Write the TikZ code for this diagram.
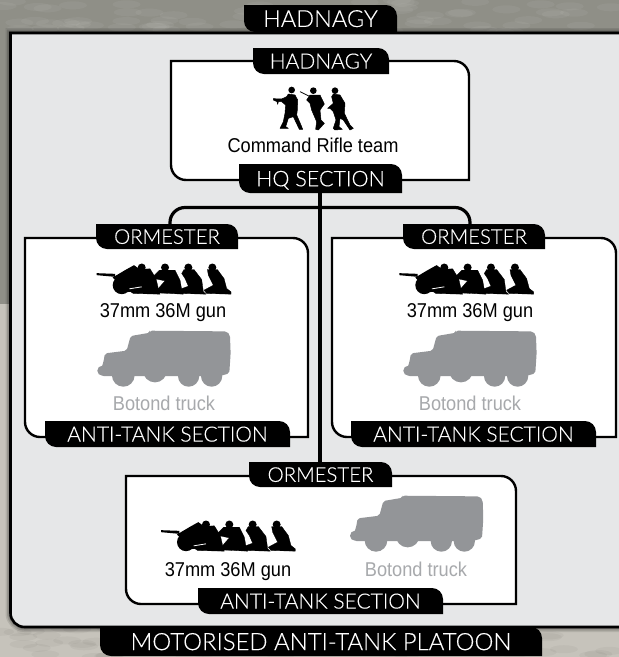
\documentclass[tikz,border=0pt]{standalone}
\usepackage{fontspec}
\setmainfont{Liberation Sans}
\newfontfamily\tabfont[FakeBold=0.25]{Lato Light}
\newfontfamily\capfont[FakeStretch=0.91]{Liberation Sans}
\definecolor{panelc}{HTML}{E6E7E8}
\definecolor{truckc}{HTML}{939598}
\definecolor{trucktext}{HTML}{A7A9AC}
\definecolor{bgtop}{HTML}{8F8F87}
\definecolor{bgbot}{HTML}{C6C3BB}
\newcommand{\tbpath}[5]{(#1,#2) -- ({#3-#5},#2) .. controls ({#3-.45*#5},#2) and (#3,{#2+.45*#5}) .. (#3,{#2+#5}) -- (#3,#4) -- ({#1+#5},#4) .. controls ({#1+.45*#5},#4) and (#1,{#4-.45*#5}) .. (#1,{#4-#5}) -- cycle}
% name, x1, y1, x2, y2, font size, text
\newcommand{\tabnode}[7]{%
  \fill \tbpath{#2}{#3}{#4}{#5}{11};
  \pgfmathsetmacro\tw{#4-#2}\pgfmathsetmacro\th{#5-#3}%
  \node[tablabel, minimum width=\tw pt, minimum height=\th pt, text height=.72*#6pt, font={\tabfont\fontsize{#6}{#6}\selectfont}] (#1) at ({(#2+#4)/2},{(#3+#5)/2}) {#7};}
\newcommand{\gunteam}[3]{%
  \begin{scope}[shift={(#1,#2)}, x=.3333pt, y=-.3333pt, shift={(-290,-190)}, every path/.append style={line width=.3pt, line join=round}]
    \fill (290,189) -- (345,191) -- (345,200) -- (290,195) -- cycle;
    \fill (365,225) circle [radius=27];
    \fill (338,202) -- (375,180) -- (402,165) -- (420,178) -- (440,205) -- (430,240) -- (380,246) -- cycle;
    \fill (425,172) circle [radius=12];
    \filldraw (405,178) -- (450,176) -- (468,205) -- (476,240) -- (480,252) -- (400,250) -- (385,240) -- (420,225) -- (410,205) -- cycle;
    \fill (495,172) circle [radius=12];
    \filldraw (478,180) -- (462,196) -- (462,205) -- (495,212) -- (475,235) -- (468,248) -- (550,252) -- (545,238) -- (540,210) -- (525,180) -- cycle;
    \fill (565,172) circle [radius=12];
    \filldraw (552,178) -- (582,178) -- (605,208) -- (610,245) -- (618,252) -- (545,250) -- (538,238) -- (565,228) -- (555,205) -- (545,190) -- cycle;
    \fill (637,172) circle [radius=12];
    \filldraw (622,178) -- (652,178) -- (672,205) -- (680,235) -- (693,245) -- (693,252) -- (620,250) -- (612,240) -- (640,225) -- (625,195) -- cycle;
    \draw[white, line width=.8pt] (388,236) -- (425,230);
  \end{scope}}
\newcommand{\truck}[3]{%
  \begin{scope}[shift={(#1,#2)}, x=.3333pt, y=-.3333pt, shift={(-292,-362)}]
    \fill[truckc, rounded corners=2pt] (300,485) -- (310,458) -- (315,430) -- (380,422) -- (392,378) -- (450,368) -- (450,362) -- (680,364) -- (690,375) -- (692,430) -- (688,490) -- (660,498) -- (305,498) -- cycle;
    \fill[truckc] (307,482) circle [radius=15];
    \fill[truckc] (370,496) circle [radius=34];
    \fill[truckc] (465,481) circle [radius=36];
    \fill[truckc] (566,498) circle [radius=32];
    \fill[truckc] (635,498) circle [radius=32];
  \end{scope}}
\begin{document}
\begin{tikzpicture}[x=1pt,y=-1pt,
  tablabel/.style={inner sep=0pt, text depth=0pt, text=white, align=center},
  sectbox/.style={fill=white, draw=black, line width=2.4pt},
  capt/.style={inner sep=0pt, anchor=base, text=black, font={\capfont\fontsize{20}{20}\selectfont}},
  captgrey/.style={capt, text=trucktext},
  conn/.style={draw=black, line width=3.6pt}]
\useasboundingbox (0,0) rectangle (619,657);
\clip (0,0) rectangle (619,657);
% background
\fill[bgbot] (0,0) rectangle (619,657);
\fill[bgtop] (0,0) rectangle (619,304);
\pgfmathsetseed{7}
\foreach \i in {1,...,70}{
  \pgfmathsetmacro\px{rnd*619}\pgfmathsetmacro\py{rnd*32}
  \fill[white, opacity=.05] (\px,\py) ellipse [x radius=14, y radius=4];
  \pgfmathsetmacro\qx{rnd*619}\pgfmathsetmacro\qy{628+rnd*29}
  \fill[black, opacity=.035] (\qx,\qy) ellipse [x radius=14, y radius=4];
}
% panel shadow
\foreach \w/\o in {10/.10,7/.14,4/.18}{
  \draw[black, opacity=\o, line width=\w pt] \tbpath{10.5}{33}{640}{627}{14};
}
% panel
\path[fill=panelc, draw=black, line width=2.6pt] \tbpath{10.5}{33}{640}{627}{14};
% section boxes
\path[sectbox] \tbpath{171}{61}{469}{180}{15};
\path[sectbox] \tbpath{25}{238}{308}{437}{15};
\path[sectbox] \tbpath{332}{238}{616}{437}{15};
\path[sectbox] \tbpath{126}{476}{516}{604}{15};
% tabs
\tabnode{topt}{244}{5}{397}{32}{23.5}{HADNAGY}
\tabnode{hqt}{253}{48}{389}{74}{21}{HADNAGY}
\tabnode{hqs}{239}{164}{402}{193}{21.5}{HQ SECTION}
\tabnode{ormL}{96}{224}{238}{249}{20.4}{ORMESTER}
\tabnode{ormR}{403}{224}{545}{249}{20.4}{ORMESTER}
\tabnode{ormB}{249}{462}{392}{487}{20.4}{ORMESTER}
\tabnode{atL}{45}{421}{290}{447}{21}{ANTI-TANK SECTION}
\tabnode{atR}{351}{421}{596}{447}{21}{ANTI-TANK SECTION}
\tabnode{atB}{198}{588}{443}{614}{21}{ANTI-TANK SECTION}
\tabnode{plat}{100}{627}{542}{656}{23.9}{MOTORISED ANTI-TANK PLATOON}
% connectors
\coordinate (jn) at (320,207.5);
\draw[conn] (hqs.south -| jn) -- (ormB.north -| jn);
\draw[conn, line width=3.2pt, rounded corners=15pt] ([xshift=3pt]ormL.north) -- ([xshift=3pt]ormL.north |- jn) -- ([xshift=-4pt]ormR.north |- jn) -- ([xshift=-4pt]ormR.north);
% command team
\begin{scope}[shift={(265,80)}, x=.3333pt, y=-.3333pt, every path/.append style={line width=.5pt, line join=round}]
  \fill (80,30) circle [radius=10];
  \filldraw (25,56) -- (50,57) -- (65,50) -- (70,42) -- (90,45) -- (98,60) -- (97,90) -- (95,105) -- (110,140) -- (113,148) -- (103,148) -- (85,110) -- (70,115) -- (62,140) -- (70,145) -- (45,145) -- (55,125) -- (60,100) -- (62,75) -- (50,65) -- (40,65) -- (38,73) -- (36,65) -- (25,60) -- cycle;
  \fill (145,32) circle [radius=10];
  \draw[line width=.8pt] (105,35) -- (135,50);
  \filldraw (135,45) -- (165,45) -- (178,72) -- (165,90) -- (168,120) -- (178,130) -- (160,150) -- (152,148) -- (155,125) -- (140,90) -- (135,70) -- (125,60) -- cycle;
  \fill (210,32) circle [radius=10];
  \filldraw (205,42) -- (225,45) -- (240,70) -- (238,100) -- (255,135) -- (265,145) -- (255,150) -- (235,120) -- (225,115) -- (222,140) -- (232,148) -- (210,150) -- (205,145) -- (213,120) -- (205,95) -- (195,85) -- (188,85) -- (205,70) -- (200,50) -- cycle;
\end{scope}
\node[capt] (cmd) at (313,152.7) {Command Rifle team};
% section L
\gunteam{96.7}{273.5}{}
\node[capt] (gunL) at (163,317) {37mm 36M gun};
\truck{97.3}{330.7}{}
\node[captgrey] (trL) at (164,410) {Botond truck};
% section R
\gunteam{399.3}{273.5}{}
\node[capt] (gunR) at (470,317) {37mm 36M gun};
\truck{403.3}{330.7}{}
\node[captgrey] (trR) at (470,410) {Botond truck};
% section B
\gunteam{161}{530.5}{}
\node[capt] (gunB) at (228,576) {37mm 36M gun};
\truck{350}{495.7}{}
\node[captgrey] (trB) at (416,576) {Botond truck};
\end{tikzpicture}
\end{document}
